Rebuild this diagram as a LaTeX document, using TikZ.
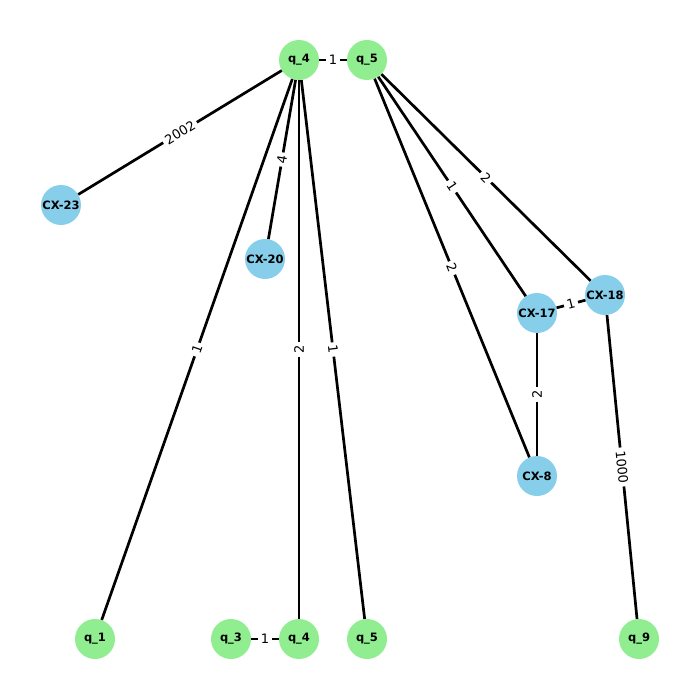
\documentclass[tikz,border=0pt]{standalone}
\usepackage{fontspec}
\setmainfont{DejaVu Sans}
\definecolor{lightgreen}{HTML}{90EE90}
\definecolor{skyblue}{HTML}{87CEEB}
\tikzset{
  qubit/.style={circle,fill=lightgreen,minimum size=40pt,inner sep=0pt,font=\bfseries\fontsize{11.5}{12}\selectfont},
  cxgate/.style={circle,fill=skyblue,minimum size=40pt,inner sep=0pt,font=\bfseries\fontsize{11.5}{12}\selectfont},
  link/.style={line width=2.7pt},
  weight/.style={midway,sloped,fill=white,inner sep=3pt,font=\fontsize{13}{14}\selectfont}
}

\begin{document}
\begin{tikzpicture}[x=1pt,y=-1pt]
  \useasboundingbox (0,0) rectangle (700,700);
  % qubits
  \node[qubit] (q4t) at (299,60) {q\_4};
  \node[qubit] (q5t) at (367,60) {q\_5};
  \node[qubit] (q1) at (95,639) {q\_1};
  \node[qubit] (q3) at (231,639) {q\_3};
  \node[qubit] (q4b) at (299,639) {q\_4};
  \node[qubit] (q5b) at (367,639) {q\_5};
  \node[qubit] (q9) at (639,639) {q\_9};
  % gates
  \node[cxgate] (cx23) at (61,205) {CX-23};
  \node[cxgate] (cx20) at (265,259) {CX-20};
  \node[cxgate] (cx17) at (537,313) {CX-17};
  \node[cxgate] (cx18) at (605,295) {CX-18};
  \node[cxgate] (cx8) at (537,476) {CX-8};
  % edges
  \draw[link] (q4t) -- node[weight] {1} (q5t);
  \draw[link] (q4t) -- node[weight] {2002} (cx23);
  \draw[link] (q4t) -- node[weight] {4} (cx20);
  \draw[link] (q4t) -- node[weight] {1} (q1);
  \draw[link] (q4b) -- node[weight] {2} (q4t);
  \draw[link] (q4t) -- node[weight] {1} (q5b);
  \draw[link] (q5t) -- node[weight] {1} (cx17);
  \draw[link] (q5t) -- node[weight] {2} (cx18);
  \draw[link] (q5t) -- node[weight] {2} (cx8);
  \draw[link] (cx17) -- node[weight] {1} (cx18);
  \draw[link] (cx8) -- node[weight] {2} (cx17);
  \draw[link] (cx18) -- node[weight] {1000} (q9);
  \draw[link] (q3) -- node[weight] {1} (q4b);
\end{tikzpicture}
\end{document}
